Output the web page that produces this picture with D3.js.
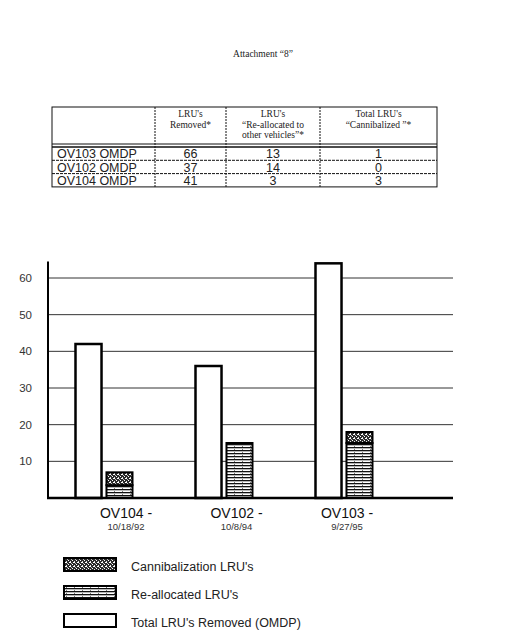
<!DOCTYPE html>
<html>
<head>
<meta charset="utf-8">
<script src="https://cdn.jsdelivr.net/npm/d3@7"></script>
<style>
  html, body { margin: 0; padding: 0; background: #fff; }
  svg { display: block; }
</style>
</head>
<body>
<svg id="chart" width="512" height="640"></svg>
<script>
// ---- Data ----
const title = "Attachment \u201c8\u201d";

const tableHeaders = [
  [""],
  ["LRU's", "Removed*"],
  ["LRU's", "\u201cRe-allocated to", "other vehicles\u201d*"],
  ["Total LRU's", "\u201cCannibalized \u201d*"]
];
const tableRowNames = ["OV103 OMDP", "OV102 OMDP", "OV104 OMDP"];
const tableRemoved = [66, 37, 41];
const tableReallocated = [13, 14, 3];
const tableCannibalized = [1, 0, 3];

const groups = ["OV104", "OV102", "OV103"];
const groupLabels = ["OV104 -", "OV102 -", "OV103 -"];
const groupDates = ["10/18/92", "10/8/94", "9/27/95"];
const totalRemoved = [42, 36, 64];
const reallocated = [3.5, 15, 15];
const cannibalization = [3.5, 0, 3];
const yTicks = [10, 20, 30, 40, 50, 60];

const legendLabels = ["Cannibalization LRU's", "Re-allocated LRU's", "Total LRU's Removed (OMDP)"];
const legendKeys = ["cann", "realloc", "total"];

// ---- Drawing ----
const svg = d3.select("#chart");
const defs = svg.append("defs");

// Re-allocated: horizontal stripes
const pR = defs.append("pattern").attr("id", "pat-realloc")
  .attr("patternUnits", "userSpaceOnUse").attr("width", 8).attr("height", 3);
pR.append("rect").attr("width", 8).attr("height", 3).attr("fill", "#fff");
pR.append("rect").attr("y", 0).attr("width", 8).attr("height", 1.3).attr("fill", "#111");
pR.append("rect").attr("x", 2).attr("y", 2).attr("width", 1).attr("height", 1).attr("fill", "#777");

// Cannibalization: dense dark speckle
const pC = defs.append("pattern").attr("id", "pat-cann")
  .attr("patternUnits", "userSpaceOnUse").attr("width", 4).attr("height", 4);
pC.append("rect").attr("width", 4).attr("height", 4).attr("fill", "#2a2a2a");
pC.append("rect").attr("x", 0).attr("y", 0).attr("width", 1).attr("height", 1).attr("fill", "#fff");
pC.append("rect").attr("x", 2).attr("y", 1).attr("width", 1).attr("height", 1).attr("fill", "#ddd");
pC.append("rect").attr("x", 1).attr("y", 2).attr("width", 2).attr("height", 1).attr("fill", "#fff");
pC.append("rect").attr("x", 3).attr("y", 3).attr("width", 1).attr("height", 1).attr("fill", "#bbb");

const fills = { cann: "url(#pat-cann)", realloc: "url(#pat-realloc)", total: "#fff" };

// Title
svg.append("text").attr("x", 263).attr("y", 57).attr("text-anchor", "middle")
  .attr("font-family", "'Liberation Serif', 'Times New Roman', serif").attr("font-size", 9.5)
  .attr("fill", "#222").text(title);

// ---- Table ----
const colEdges = [52, 155, 226, 320, 437];
const tableTop = 107, headBottom = 144, rowH = 13.3;
const tg = svg.append("g").attr("stroke", "#111").attr("fill", "none");
const tableBottom = headBottom + 3 + rowH * tableRowNames.length;
tg.append("rect").attr("x", colEdges[0]).attr("y", tableTop)
  .attr("width", colEdges[4] - colEdges[0]).attr("height", tableBottom - tableTop).attr("stroke-width", 1);
colEdges.slice(1, 4).forEach(x => tg.append("line").attr("x1", x).attr("x2", x)
  .attr("y1", tableTop).attr("y2", tableBottom).attr("stroke-width", 1).attr("stroke-dasharray", "2,1"));
tg.append("line").attr("x1", colEdges[0]).attr("x2", colEdges[4]).attr("y1", headBottom).attr("y2", headBottom).attr("stroke-width", 1);
tg.append("line").attr("x1", colEdges[0]).attr("x2", colEdges[4]).attr("y1", headBottom + 3).attr("y2", headBottom + 3).attr("stroke-width", 1.5);
tableRowNames.forEach((_, i) => {
  if (i > 0) tg.append("line").attr("x1", colEdges[0]).attr("x2", colEdges[4])
    .attr("y1", headBottom + 3 + rowH * i).attr("y2", headBottom + 3 + rowH * i)
    .attr("stroke-width", 1).attr("stroke-dasharray", "3,1");
});
// header text
tableHeaders.forEach((lines, c) => {
  const cx = (colEdges[c] + colEdges[c + 1]) / 2;
  lines.forEach((ln, k) => {
    svg.append("text").attr("x", cx).attr("y", 117 + k * 10.5).attr("text-anchor", "middle")
      .attr("font-family", "'Liberation Serif', 'Times New Roman', serif").attr("font-size", 9.5)
      .attr("fill", "#222").text(ln);
  });
});
// body text
const bodyCols = [tableRemoved, tableReallocated, tableCannibalized];
tableRowNames.forEach((name, i) => {
  const yb = headBottom + 3 + rowH * i + 11.2;
  svg.append("text").attr("x", 57).attr("y", yb)
    .attr("font-family", "'Liberation Sans', Arial, sans-serif").attr("font-size", 12.5)
    .attr("fill", "#222").text(name);
  bodyCols.forEach((col, c) => {
    svg.append("text").attr("x", (colEdges[c + 1] + colEdges[c + 2]) / 2).attr("y", yb)
      .attr("text-anchor", "middle")
      .attr("font-family", "'Liberation Sans', Arial, sans-serif").attr("font-size", 12.5)
      .attr("fill", "#222").text(col[i]);
  });
});

// ---- Bar chart ----
const y = d3.scaleLinear().domain([0, 60]).range([498, 278]);
const x0 = d3.scaleBand().domain(groups).range([44, 404]);
const x1 = d3.scaleBand().domain(["total", "stack"]).range([0, 57]).paddingInner(0.16);
const xLabel = d3.scalePoint().domain(groups).range([126, 347]);
const axisLeft = 48, axisRight = 453;

// gridlines
svg.append("g").selectAll("line").data(yTicks).join("line")
  .attr("x1", axisLeft).attr("x2", axisRight)
  .attr("y1", d => y(d)).attr("y2", d => y(d))
  .attr("stroke", "#333").attr("stroke-width", 1);

// y tick labels
svg.append("g").selectAll("text").data(yTicks).join("text")
  .attr("x", 32).attr("y", d => y(d) + 4).attr("text-anchor", "end")
  .attr("font-family", "'Liberation Sans', Arial, sans-serif").attr("font-size", 11.5)
  .attr("fill", "#333").text(d => d);

// bars
const gx = g => x0(g) + x0.bandwidth() / 2 - 28.5;
const bars = svg.append("g");
groups.forEach((g, i) => {
  bars.append("rect")
    .attr("x", gx(g) + x1("total")).attr("y", y(totalRemoved[i]))
    .attr("width", x1.bandwidth()).attr("height", y(0) - y(totalRemoved[i]))
    .attr("fill", fills.total).attr("stroke", "#000").attr("stroke-width", 2.5);
  const sx = gx(g) + x1("stack");
  bars.append("rect")
    .attr("x", sx).attr("y", y(reallocated[i]))
    .attr("width", x1.bandwidth()).attr("height", y(0) - y(reallocated[i]))
    .attr("fill", fills.realloc).attr("stroke", "#000").attr("stroke-width", 2);
  if (cannibalization[i] > 0) {
    bars.append("rect")
      .attr("x", sx).attr("y", y(reallocated[i] + cannibalization[i]))
      .attr("width", x1.bandwidth()).attr("height", y(reallocated[i]) - y(reallocated[i] + cannibalization[i]))
      .attr("fill", fills.cann).attr("stroke", "#000").attr("stroke-width", 2);
  }
});

// axes lines
svg.append("line").attr("x1", axisLeft).attr("x2", axisLeft).attr("y1", y(0) + 1).attr("y2", y(64.5))
  .attr("stroke", "#000").attr("stroke-width", 2);
svg.append("line").attr("x1", axisLeft - 1).attr("x2", axisRight).attr("y1", y(0)).attr("y2", y(0))
  .attr("stroke", "#000").attr("stroke-width", 2.5);

// x labels
groups.forEach((g, i) => {
  svg.append("text").attr("x", xLabel(g)).attr("y", 518).attr("text-anchor", "middle")
    .attr("font-family", "'Liberation Sans', Arial, sans-serif").attr("font-size", 14)
    .attr("fill", "#111").text(groupLabels[i]);
  svg.append("text").attr("x", xLabel(g)).attr("y", 530).attr("text-anchor", "middle")
    .attr("font-family", "'Liberation Sans', Arial, sans-serif").attr("font-size", 9.5)
    .attr("fill", "#333").text(groupDates[i]);
});

// legend
const legY = d3.scalePoint().domain(legendKeys).range([564, 620]);
legendKeys.forEach((k, i) => {
  svg.append("rect").attr("x", 64).attr("y", legY(k) - 6).attr("width", 52).attr("height", 13)
    .attr("fill", fills[k]).attr("stroke", "#000").attr("stroke-width", 2);
  svg.append("text").attr("x", 131).attr("y", legY(k) + 7)
    .attr("font-family", "'Liberation Sans', Arial, sans-serif").attr("font-size", 12.5)
    .attr("fill", "#222").text(legendLabels[i]);
});
</script>
</body>
</html>
